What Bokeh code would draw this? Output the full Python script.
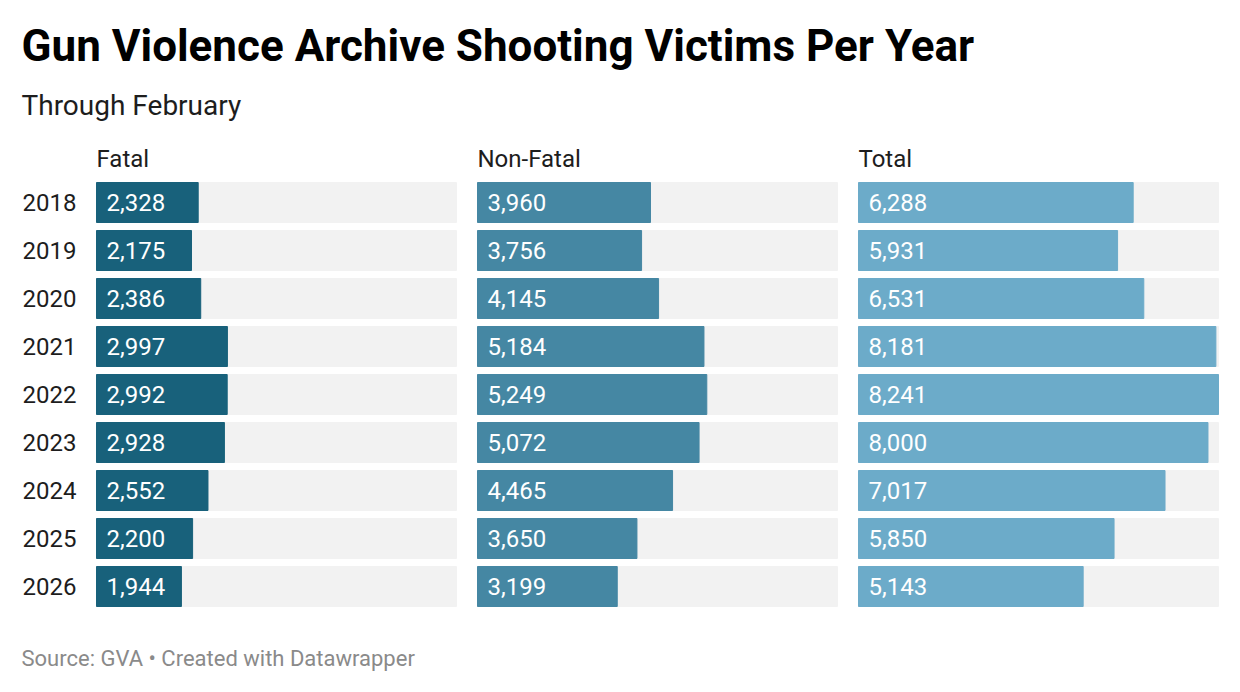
from bokeh.plotting import figure
from bokeh.models import Range1d, ColumnDataSource
from bokeh.core.properties import value
from bokeh.embed import file_html
from bokeh.resources import INLINE

years = ["2018", "2019", "2020", "2021", "2022", "2023", "2024", "2025", "2026"]
fatal = [2328, 2175, 2386, 2997, 2992, 2928, 2552, 2200, 1944]
non_fatal = [3960, 3756, 4145, 5184, 5249, 5072, 4465, 3650, 3199]
total = [6288, 5931, 6531, 8181, 8241, 8000, 7017, 5850, 5143]
panel_titles = ["Fatal", "Non-Fatal", "Total"]
panel_colors = ["#18617b", "#4587a3", "#6cabc9"]
title = "Gun Violence Archive Shooting Victims Per Year"
subtitle = "Through February"
footer = "Source: GVA \u2022 Created with Datawrapper"

W, H = 1224, 676
FONT = "Roboto"

p = figure(width=W, height=H, x_range=Range1d(0, W), y_range=Range1d(H, 0),
           output_backend="svg", toolbar_location=None, min_border=0,
           x_axis_type=None, y_axis_type=None)
p.grid.visible = False
p.outline_line_color = None
p.background_fill_color = "white"
p.border_fill_color = "white"

xmax = max(total)
panel_w = 360.0
panel_left = [96.0, 477.0, 858.0]
row_top, row_step = 202.0, 48.0
bar_h = 40.0 / row_step

# row-index y range
p.extra_y_ranges = {"rows": Range1d(start=(H - row_top) / row_step, end=(0 - row_top) / row_step)}
ranges = {}
for k, left in enumerate(panel_left):
    per_px = xmax / panel_w
    ranges[f"x{k}"] = Range1d(start=-left * per_px, end=(W - left) * per_px)
p.extra_x_ranges = ranges

rows = list(range(len(years)))
series = [fatal, non_fatal, total]
for k, vals in enumerate(series):
    src = ColumnDataSource(dict(y=rows, v=vals, full=[xmax] * len(vals),
                                lab=[f"{v:,}" for v in vals],
                                lx=[xmax * 10 / panel_w] * len(vals)))
    p.hbar(y="y", left=0, right="full", height=bar_h, source=src, color="#f2f2f2",
           x_range_name=f"x{k}", y_range_name="rows")
    p.hbar(y="y", left=0, right="v", height=bar_h, source=src, color=panel_colors[k],
           x_range_name=f"x{k}", y_range_name="rows")
    p.text(x="lx", y="y", text="lab", source=src, x_range_name=f"x{k}", y_range_name="rows",
           text_font=value(FONT), text_font_size="24px", text_color="white",
           text_baseline="middle", text_align="left")
    p.text(x=[0], y=[158], text=[panel_titles[k]], x_range_name=f"x{k}",
           text_font=value(FONT), text_font_size="24px", text_color="#1d1d1d",
           text_baseline="middle", text_align="left")

p.text(x=[22] * len(years), y=rows, text=years, y_range_name="rows",
       text_font=value(FONT), text_font_size="24px", text_color="#1d1d1d",
       text_baseline="middle", text_align="left")

p.text(x=[21], y=[45], text=[title], text_font=value(FONT), text_font_size="44px",
       text_font_style="bold", text_color="#000000", text_baseline="middle")
p.text(x=[21], y=[105], text=[subtitle], text_font=value(FONT), text_font_size="28px",
       text_color="#1d1d1d", text_baseline="middle")
p.text(x=[21], y=[658], text=[footer], text_font=value(FONT), text_font_size="22px",
       text_color="#8a8a8a", text_baseline="middle")

open("out.html", "w").write(file_html(p, INLINE))
